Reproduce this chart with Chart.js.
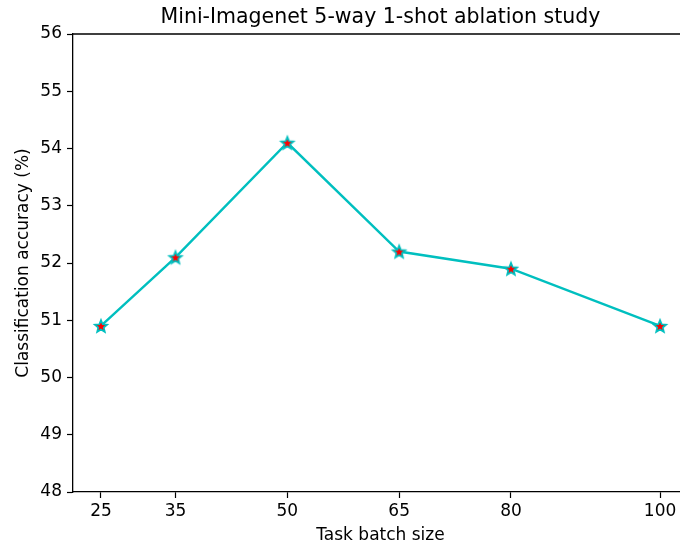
<!DOCTYPE html>
<html>
<head>
<meta charset="utf-8">
<script src="https://cdn.jsdelivr.net/npm/chart.js@4/dist/chart.umd.min.js"></script>
<style>
html, body { margin: 0; padding: 0; background: #fff; overflow: hidden; }
#wrap { width: 700px; height: 548px; }
</style>
</head>
<body>
<div id="wrap"><canvas id="myChart" width="700" height="548"></canvas></div>
<script>
const batchSizes = [25, 35, 50, 65, 80, 100];
const accuracy = [50.9, 52.1, 54.1, 52.2, 51.9, 50.9];
const xTicks = [25, 35, 50, 65, 80, 100];
const yTicks = [48, 49, 50, 51, 52, 53, 54, 55, 56];
const titleText = "Mini-Imagenet 5-way 1-shot ablation study";

const FONT = "'DejaVu Sans', sans-serif";
const CYAN = "#00bfbf";

// filled star like matplotlib '*'
function makeStar() {
	const c = document.createElement("canvas");
	c.width = 18; c.height = 18;
	const g = c.getContext("2d");
	const R = 6.5, r = 2.9, cx = 9, cy = 9.6;
	g.beginPath();
	for (let i = 0; i < 10; i++) {
		const rad = i % 2 === 0 ? R : r;
		const a = -Math.PI / 2 + i * Math.PI / 5;
		const px = cx + rad * Math.cos(a), py = cy + rad * Math.sin(a);
		if (i === 0) g.moveTo(px, py); else g.lineTo(px, py);
	}
	g.closePath();
	g.fillStyle = "#ff0000";
	g.fill();
	g.lineWidth = 1.7;
	g.lineJoin = "miter";
	g.strokeStyle = CYAN;
	g.stroke();
	return c;
}

const topSpine = {
	id: "topSpine",
	afterDraw(chart) {
		const { ctx, chartArea } = chart;
		ctx.save();
		ctx.strokeStyle = "#000";
		ctx.lineWidth = 1.3;
		ctx.beginPath();
		ctx.moveTo(chartArea.left, chartArea.top);
		ctx.lineTo(chartArea.right, chartArea.top);
		ctx.moveTo(chartArea.right, chartArea.top);
		ctx.lineTo(chartArea.right, chartArea.bottom);
		ctx.stroke();
		ctx.fillStyle = "#000";
		ctx.font = "20.5px " + FONT;
		ctx.textAlign = "center";
		ctx.textBaseline = "middle";
		ctx.fillText(titleText, 380.5, 18);
		ctx.restore();
	}
};

const myChart = new Chart(document.getElementById("myChart").getContext("2d"), {
	type: "line",
	data: {
		datasets: [{
			label: "accuracy",
			data: batchSizes.map((b, i) => ({ x: b, y: accuracy[i] })),
			borderColor: CYAN,
			borderWidth: 2.4,
			fill: false,
			tension: 0,
			pointStyle: makeStar(),
			pointRadius: 7
		}]
	},
	options: {
		responsive: false,
		animation: false,
		layout: { padding: { top: 34, right: 12, left: 0, bottom: 0 } },
		plugins: { legend: { display: false }, tooltip: { enabled: false }, title: { display: false } },
		scales: {
			x: {
				type: "linear",
				min: 21.25,
				max: 103.75,
				afterBuildTicks: (s) => { s.ticks = xTicks.map(v => ({ value: v })); },
				afterFit: (s) => { s.height = 56; },
				grid: { drawOnChartArea: false, drawTicks: true, tickLength: 6, color: "#000", tickWidth: 1.2 },
				border: { display: true, color: "#000", width: 1.3 },
				ticks: { color: "#000", font: { family: FONT, size: 17 }, padding: 3, maxRotation: 0 },
				title: { display: true, text: "Task batch size", color: "#000", font: { family: FONT, size: 17 }, padding: { top: 0, bottom: 2 } }
			},
			y: {
				min: 48,
				max: 56,
				afterBuildTicks: (s) => { s.ticks = yTicks.map(v => ({ value: v })); },
				afterFit: (s) => { s.width = 73; },
				grid: { drawOnChartArea: false, drawTicks: true, tickLength: 6, color: "#000", tickWidth: 1.2 },
				border: { display: true, color: "#000", width: 1.3 },
				ticks: { color: "#000", font: { family: FONT, size: 17 }, padding: 5 },
				title: { display: true, text: "Classification accuracy (%)", color: "#000", font: { family: FONT, size: 17 }, padding: { top: 13, bottom: 0 } }
			}
		}
	},
	plugins: [topSpine]
});
</script>
</body>
</html>
